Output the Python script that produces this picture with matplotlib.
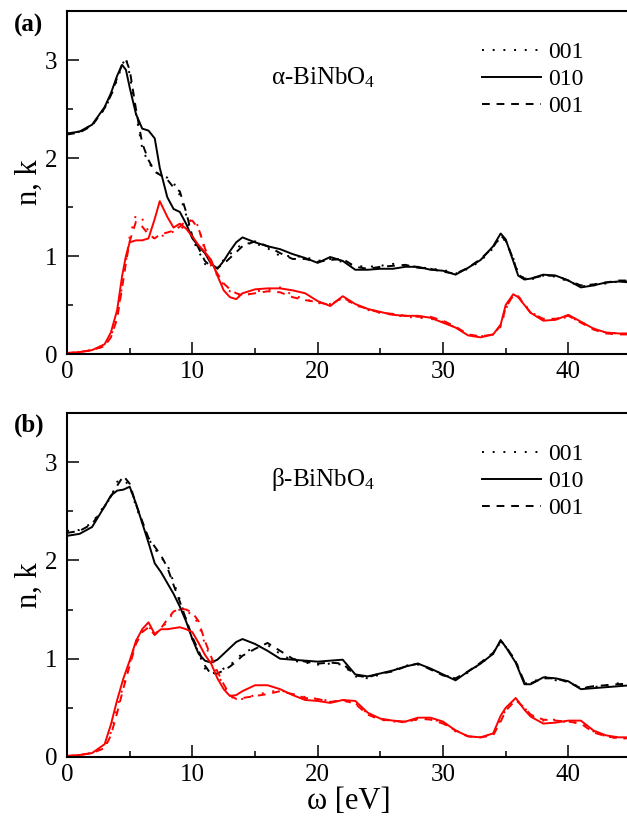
import matplotlib
matplotlib.use("Agg")
import matplotlib.pyplot as plt
from matplotlib.ticker import MultipleLocator

plt.rcParams['font.family'] = ['Liberation Serif', 'DejaVu Serif']
plt.rcParams['mathtext.fontset'] = 'custom'
plt.rcParams['mathtext.rm'] = 'Liberation Serif'
plt.rcParams['mathtext.it'] = 'Liberation Serif:italic'

# ---- panel (a): alpha-BiNbO4 ----
E_a = [0, 1, 2, 3, 3.5, 4, 4.4, 4.7, 5, 5.5,
       6, 6.5, 7, 7.4, 8, 8.5, 9, 9.5, 10, 10.5,
       11, 11.5, 12, 12.5, 13, 13.5, 14, 15, 16, 17,
       18, 19, 20, 21, 22, 23, 24, 25, 26, 27,
       28, 29, 30, 31, 32, 33, 34, 34.6, 35, 35.6,
       36, 36.5, 37, 38, 39, 40, 41, 42, 43, 44, 45]

n_a_dot = [2.25, 2.27, 2.34, 2.50, 2.63, 2.80, 2.95, 3.03, 2.85, 2.45,
           2.10, 1.95, 1.88, 1.82, 1.80, 1.75, 1.62, 1.42, 1.17, 1.05,
           0.92, 0.88, 0.90, 0.96, 1.02, 1.07, 1.13, 1.13, 1.08, 1.00,
           1.00, 0.99, 0.95, 0.97, 0.94, 0.90, 0.89, 0.90, 0.92, 0.90,
           0.89, 0.87, 0.86, 0.82, 0.87, 0.95, 1.08, 1.20, 1.15, 0.98,
           0.82, 0.77, 0.76, 0.80, 0.79, 0.74, 0.69, 0.70, 0.72, 0.74, 0.74]
n_a_sol = [2.25, 2.27, 2.34, 2.52, 2.66, 2.84, 2.95, 2.90, 2.72, 2.45,
           2.30, 2.28, 2.20, 1.90, 1.60, 1.48, 1.45, 1.33, 1.18, 1.10,
           1.03, 0.92, 0.87, 0.95, 1.05, 1.14, 1.19, 1.14, 1.10, 1.07,
           1.02, 0.98, 0.93, 0.99, 0.95, 0.86, 0.86, 0.87, 0.87, 0.89,
           0.89, 0.86, 0.85, 0.81, 0.88, 0.96, 1.10, 1.23, 1.17, 0.95,
           0.80, 0.76, 0.77, 0.81, 0.80, 0.75, 0.68, 0.70, 0.73, 0.74, 0.73]
n_a_dash = [2.24, 2.26, 2.33, 2.51, 2.64, 2.82, 2.96, 3.00, 2.90, 2.50,
            2.15, 1.98, 1.86, 1.83, 1.78, 1.70, 1.66, 1.45, 1.20, 1.08,
            0.95, 0.89, 0.88, 0.92, 0.98, 1.04, 1.10, 1.15, 1.10, 1.03,
            0.97, 0.97, 0.94, 0.96, 0.97, 0.89, 0.87, 0.89, 0.90, 0.91,
            0.88, 0.87, 0.84, 0.82, 0.88, 0.97, 1.09, 1.21, 1.16, 0.97,
            0.81, 0.77, 0.77, 0.80, 0.80, 0.75, 0.70, 0.71, 0.73, 0.75, 0.75]

k_a_dot = [0.01, 0.02, 0.04, 0.08, 0.18, 0.38, 0.70, 0.95, 1.20, 1.42,
           1.38, 1.25, 1.17, 1.20, 1.22, 1.25, 1.27, 1.32, 1.38, 1.30,
           1.05, 0.90, 0.80, 0.70, 0.64, 0.60, 0.58, 0.64, 0.65, 0.68,
           0.60, 0.56, 0.52, 0.51, 0.57, 0.50, 0.45, 0.42, 0.40, 0.38,
           0.37, 0.36, 0.33, 0.27, 0.20, 0.18, 0.20, 0.28, 0.46, 0.60,
           0.59, 0.51, 0.43, 0.35, 0.35, 0.38, 0.33, 0.26, 0.22, 0.21, 0.20]
k_a_sol = [0.01, 0.02, 0.04, 0.10, 0.22, 0.45, 0.80, 1.00, 1.14, 1.16,
           1.16, 1.18, 1.38, 1.56, 1.40, 1.29, 1.33, 1.28, 1.20, 1.11,
           1.04, 0.96, 0.80, 0.65, 0.58, 0.56, 0.62, 0.66, 0.67, 0.67,
           0.65, 0.62, 0.54, 0.49, 0.59, 0.51, 0.46, 0.43, 0.40, 0.39,
           0.39, 0.37, 0.32, 0.27, 0.19, 0.17, 0.20, 0.30, 0.50, 0.61,
           0.58, 0.50, 0.42, 0.34, 0.35, 0.40, 0.33, 0.26, 0.22, 0.21, 0.21]
k_a_dash = [0.01, 0.02, 0.04, 0.08, 0.17, 0.36, 0.68, 0.93, 1.15, 1.35,
            1.30, 1.22, 1.18, 1.22, 1.24, 1.26, 1.30, 1.36, 1.36, 1.28,
            1.08, 0.92, 0.82, 0.72, 0.66, 0.62, 0.60, 0.62, 0.64, 0.63,
            0.58, 0.55, 0.53, 0.50, 0.58, 0.50, 0.46, 0.42, 0.41, 0.39,
            0.38, 0.38, 0.34, 0.28, 0.20, 0.18, 0.20, 0.29, 0.47, 0.60,
            0.59, 0.50, 0.42, 0.36, 0.36, 0.39, 0.32, 0.25, 0.21, 0.20, 0.20]

# ---- panel (b): beta-BiNbO4 ----
E_b = [0, 1, 2, 3, 3.5, 4, 4.5, 5, 5.5, 6,
       6.5, 7, 7.5, 8, 8.5, 9, 9.5, 10, 10.5, 11,
       11.5, 12, 12.5, 13, 13.5, 14, 15, 16, 17, 18,
       19, 20, 21, 22, 23, 24, 25, 26, 27, 28,
       29, 30, 31, 32, 33, 34, 34.6, 35, 35.8, 36.5,
       37, 38, 39, 40, 41, 42, 43, 44, 45]

n_b_dot = [2.30, 2.31, 2.38, 2.56, 2.64, 2.80, 2.82, 2.76, 2.55, 2.38,
           2.22, 2.12, 2.03, 1.96, 1.78, 1.60, 1.40, 1.20, 1.06, 0.90,
           0.85, 0.86, 0.90, 0.93, 1.00, 1.05, 1.12, 1.14, 1.05, 0.98,
           0.96, 0.94, 0.95, 0.94, 0.82, 0.80, 0.84, 0.88, 0.93, 0.94,
           0.90, 0.84, 0.79, 0.86, 0.95, 1.05, 1.17, 1.12, 0.98, 0.75,
           0.75, 0.82, 0.78, 0.77, 0.70, 0.71, 0.73, 0.75, 0.76]
n_b_sol = [2.25, 2.27, 2.34, 2.55, 2.66, 2.71, 2.72, 2.75, 2.58, 2.38,
           2.18, 1.97, 1.88, 1.77, 1.66, 1.53, 1.38, 1.20, 1.05, 0.98,
           0.96, 0.99, 1.05, 1.11, 1.17, 1.20, 1.15, 1.08, 1.00, 0.99,
           0.98, 0.97, 0.98, 0.99, 0.84, 0.82, 0.85, 0.88, 0.92, 0.95,
           0.90, 0.84, 0.78, 0.87, 0.95, 1.05, 1.19, 1.12, 0.96, 0.74,
           0.74, 0.81, 0.80, 0.77, 0.69, 0.70, 0.71, 0.72, 0.73]
n_b_dash = [2.28, 2.30, 2.37, 2.55, 2.65, 2.76, 2.86, 2.78, 2.57, 2.40,
            2.23, 2.14, 2.05, 1.93, 1.75, 1.58, 1.40, 1.22, 1.08, 0.93,
            0.84, 0.85, 0.88, 0.92, 0.97, 1.03, 1.10, 1.16, 1.08, 1.00,
            0.97, 0.95, 0.96, 0.95, 0.83, 0.81, 0.85, 0.87, 0.92, 0.95,
            0.89, 0.83, 0.80, 0.87, 0.96, 1.06, 1.18, 1.13, 0.97, 0.76,
            0.75, 0.80, 0.80, 0.76, 0.70, 0.72, 0.73, 0.74, 0.75]

k_b_dot = [0.01, 0.02, 0.04, 0.10, 0.25, 0.50, 0.73, 0.95, 1.18, 1.28,
           1.33, 1.25, 1.30, 1.38, 1.47, 1.50, 1.48, 1.45, 1.35, 1.15,
           1.00, 0.85, 0.72, 0.62, 0.58, 0.59, 0.63, 0.66, 0.68, 0.64,
           0.61, 0.59, 0.57, 0.57, 0.55, 0.44, 0.38, 0.36, 0.36, 0.38,
           0.39, 0.35, 0.26, 0.21, 0.20, 0.23, 0.38, 0.48, 0.59, 0.50,
           0.42, 0.37, 0.38, 0.35, 0.35, 0.26, 0.21, 0.19, 0.19]
k_b_sol = [0.01, 0.02, 0.04, 0.13, 0.33, 0.58, 0.80, 0.98, 1.18, 1.30,
           1.37, 1.25, 1.30, 1.30, 1.31, 1.32, 1.30, 1.27, 1.16, 1.04,
           0.95, 0.80, 0.69, 0.62, 0.63, 0.67, 0.73, 0.73, 0.69, 0.63,
           0.58, 0.57, 0.55, 0.58, 0.57, 0.45, 0.39, 0.37, 0.36, 0.40,
           0.40, 0.36, 0.27, 0.21, 0.20, 0.24, 0.42, 0.50, 0.60, 0.48,
           0.41, 0.34, 0.35, 0.37, 0.37, 0.27, 0.22, 0.20, 0.20]
k_b_dash = [0.01, 0.02, 0.04, 0.09, 0.22, 0.45, 0.70, 0.93, 1.15, 1.27,
            1.32, 1.24, 1.31, 1.40, 1.48, 1.51, 1.50, 1.47, 1.38, 1.18,
            1.02, 0.87, 0.74, 0.63, 0.59, 0.60, 0.62, 0.64, 0.67, 0.64,
            0.60, 0.59, 0.56, 0.58, 0.54, 0.43, 0.38, 0.37, 0.35, 0.39,
            0.38, 0.34, 0.27, 0.21, 0.20, 0.22, 0.36, 0.47, 0.58, 0.50,
            0.43, 0.38, 0.37, 0.36, 0.34, 0.25, 0.21, 0.19, 0.19]

labels = ['001', '010', '001']
DOT = (0, (1, 4.5))
DASH = (0, (4, 3.5))


def draw_panel(ax, E, n_series, k_series, title):
    styles = [DOT, '-', DASH]
    for vals, ls, lab in zip(n_series, styles, labels):
        ax.plot(E, vals, color='black', linestyle=ls, lw=1.4, label=lab)
    for vals, ls in zip(k_series, styles):
        ax.plot(E, vals, color='#ff0000', linestyle=ls, lw=1.4)

    ax.set_xlim(0, 45)
    ax.set_ylim(0, 3.5)
    ax.xaxis.set_major_locator(MultipleLocator(10))
    ax.xaxis.set_minor_locator(MultipleLocator(5))
    ax.yaxis.set_major_locator(MultipleLocator(1))
    ax.yaxis.set_minor_locator(MultipleLocator(0.5))
    ax.tick_params(which='both', direction='in', width=1.1, labelsize=18)
    ax.tick_params(which='major', length=8.5)
    ax.tick_params(which='minor', length=4.3)
    ax.tick_params(axis='x', pad=5)
    ax.tick_params(axis='y', pad=7)
    for s in ax.spines.values():
        s.set_linewidth(1.5)
    ax.set_ylabel('n, k', fontsize=22, labelpad=1)

    ax.text(16.3, 2.82, title, fontsize=18, va='center', ha='left')
    ax.legend(loc='upper left', bbox_to_anchor=(0.735, 0.91), frameon=False,
              fontsize=17, handlelength=2.5, handletextpad=0.3,
              labelspacing=0.22, borderpad=0, borderaxespad=0)


fig = plt.figure(figsize=(6.27, 8.22), dpi=100)
ax_a = fig.add_axes([0.1069, 0.5693, 0.8995, 0.4173])
ax_b = fig.add_axes([0.1069, 0.0791, 0.8995, 0.4185])

draw_panel(ax_a, E_a, [n_a_dot, n_a_sol, n_a_dash], [k_a_dot, k_a_sol, k_a_dash],
           'α-BiNbO$_4$')
draw_panel(ax_b, E_b, [n_b_dot, n_b_sol, n_b_dash], [k_b_dot, k_b_sol, k_b_dash],
           'β-BiNbO$_4$')
ax_b.set_xlabel('ω [eV]', fontsize=22, labelpad=1)

fig.text(0.022, 0.969, '(a)', fontsize=18, fontweight='bold', va='center')
fig.text(0.022, 0.483, '(b)', fontsize=18, fontweight='bold', va='center')

fig.savefig('out.png', dpi=100)
